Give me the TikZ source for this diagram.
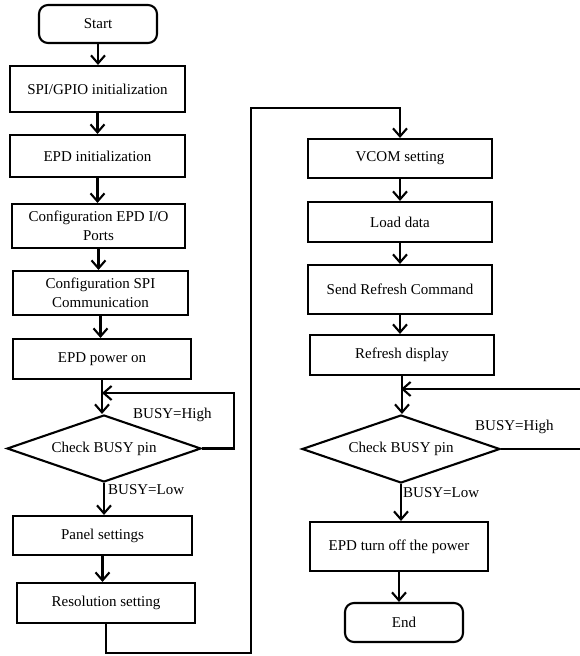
\documentclass[tikz,border=0pt]{standalone}
\usepackage{fontspec}
\setmainfont{Liberation Serif}
\usepackage{tikz}
\usetikzlibrary{arrows.meta,shapes.geometric}
\newcommand{\boxfont}{\fontsize{15}{18.5}\selectfont}
\tikzset{
    box/.style={draw, line width=2.1pt, inner sep=2pt, align=center, font=\boxfont},
    term/.style={box, rounded corners=9pt},
    check/.style={draw, diamond, shape aspect=2.9, line width=2.1pt, inner sep=0pt, font=\boxfont},
    lbl/.style={inner sep=0pt, anchor=west, font=\boxfont},
    wire/.style={line width=2.1pt},
    arr/.style={
        line width=2.1pt, % open V tip like the original
        -{Straight Barb[length=8pt,width=14pt,line width=2.1pt]}
    }
}

\begin{document}
\begin{tikzpicture}[x=1pt,y=-1pt]
\useasboundingbox (0,0) rectangle (580,656);
% left column
\node[term, minimum width=118pt, minimum height=38pt] (S) at (98,24) {Start};
\node[box, minimum width=175pt, minimum height=46pt] (A) at (97.5,89) {SPI/GPIO initialization};
\node[box, minimum width=175pt, minimum height=42pt] (B) at (97.5,156) {EPD initialization};
\node[box, minimum width=173pt, minimum height=44pt] (IO) at (98.5,226) {Configuration EPD I/O\\Ports};
\node[box, minimum width=175pt, minimum height=44pt] (SPI) at (100.5,293) {Configuration SPI\\Communication};
\node[box, minimum width=178pt, minimum height=40pt] (P) at (102,359) {EPD power on};
\node[check, minimum width=194pt, minimum height=67pt] (C1) at (104,448.5) {Check BUSY pin};
\node[box, minimum width=179pt, minimum height=39pt] (D) at (102.5,535.5) {Panel settings};
\node[box, minimum width=178pt, minimum height=40pt] (E) at (106,603) {Resolution setting};
\node[lbl] (H1) at (133,415) {BUSY=High};
\node[lbl] (L1) at (108,490) {BUSY=Low};
% right column
\node[box, minimum width=184pt, minimum height=39pt] (F) at (400,158.5) {VCOM setting};
\node[box, minimum width=184pt, minimum height=40pt] (G) at (400,222) {Load data};
\node[box, minimum width=184pt, minimum height=49pt] (R) at (400,289.5) {Send Refresh Command};
\node[box, minimum width=184pt, minimum height=40pt] (H) at (402,355) {Refresh display};
\node[check, minimum width=198pt, minimum height=68pt] (C2) at (401,449) {Check BUSY pin};
\node[box, minimum width=178pt, minimum height=49pt] (O) at (399,546.5) {EPD turn off the power};
\node[term, minimum width=118pt, minimum height=39pt] (T) at (404,622.5) {End};
\node[lbl] (H2) at (475,427) {BUSY=High};
\node[lbl] (L2) at (403,493) {BUSY=Low};
\coordinate (J1) at (P |- 0,393);
\coordinate (K1) at (251,653);
\coordinate (K2) at (251,108);
\coordinate (R1) at (580,449);
\coordinate (R2) at (580,389);
\draw[arr] (S) -- (S |- A.north);
\draw[arr] (A) -- (A |- B.north);
\draw[arr] (B) -- (B |- IO.north);
\draw[arr] (IO) -- (IO |- SPI.north);
\draw[arr] (SPI) -- (SPI |- P.north);
\draw[arr] (P) -- (P |- C1.north);
\draw[arr] (C1.east) -- ++(32,0) |- (J1);
\draw[arr] (C1) -- (C1 |- D.north);
\draw[arr] (D) -- (D |- E.north);
\draw[arr] (E) |- (K1) -- (K2) -| (F);
\draw[arr] (F) -- (F |- G.north);
\draw[arr] (G) -- (G |- R.north);
\draw[arr] (R) -- (R |- H.north);
\draw[arr] (H) -- (H |- C2.north);
\draw[wire] (C2.east) -- (R1);
\draw[arr] (R2) -- (R2 -| C2);
\draw[arr] (C2) -- (C2 |- O.north);
\draw[arr] (O) -- (O |- T.north);
\end{tikzpicture}
\end{document}
